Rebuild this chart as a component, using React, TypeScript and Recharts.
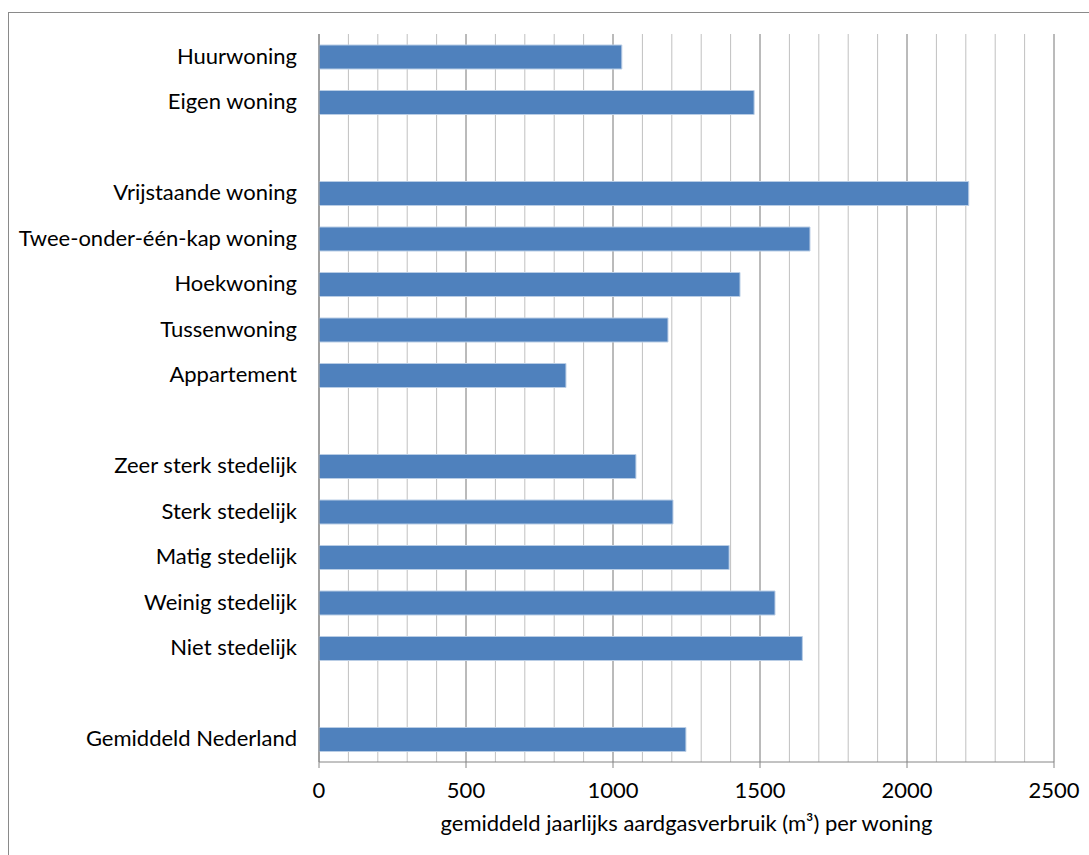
import React from 'react';
import { BarChart, Bar, XAxis, YAxis, CartesianGrid } from 'recharts';

const categories = [
  'Huurwoning',
  'Eigen woning',
  ' ',
  'Vrijstaande woning',
  'Twee-onder-één-kap woning',
  'Hoekwoning',
  'Tussenwoning',
  'Appartement',
  '  ',
  'Zeer sterk stedelijk',
  'Sterk stedelijk',
  'Matig stedelijk',
  'Weinig stedelijk',
  'Niet stedelijk',
  '   ',
  'Gemiddeld Nederland',
];
const gasUse = [1030, 1480, null, 2210, 1670, 1432, 1187, 840, null, 1078, 1204, 1395, 1551, 1644, null, 1248];
const minorTicks = [0, 100, 200, 300, 400, 500, 600, 700, 800, 900, 1000, 1100, 1200, 1300, 1400, 1500, 1600, 1700, 1800, 1900, 2000, 2100, 2200, 2300, 2400, 2500];
const majorTicks = [0, 500, 1000, 1500, 2000, 2500];
const axisTitle = 'gemiddeld jaarlijks aardgasverbruik (m³) per woning';

const data = categories.map((name, i) => ({ name, value: gasUse[i] }));

const FONT = 'Lato, "Open Sans", sans-serif';
const FS = 22;

const XTick = (props: any) => {
  const { x, y, payload } = props;
  if (!majorTicks.includes(payload.value)) return <g />;
  return (
    <g>
      <line x1={x} x2={x} y1={y} y2={y + 6} stroke="#868686" strokeWidth={1} />
      <text x={x} y={y + 36} textAnchor="middle" fill="#000" fontSize={FS} fontFamily={FONT}>
        {payload.value}
      </text>
    </g>
  );
};

const YTick = (props: any) => {
  const { x, y, payload } = props;
  return (
    <text x={x - 22} y={y + 7} textAnchor="end" fill="#000" fontSize={FS} fontFamily={FONT}>
      {String(payload.value).trim()}
    </text>
  );
};

const AxisTitle = (props: any) => {
  const { viewBox } = props;
  const cx = viewBox.x + viewBox.width / 2;
  return (
    <text x={cx} y={818} textAnchor="middle" fill="#000" fontSize={FS} fontFamily={FONT}>
      {axisTitle}
    </text>
  );
};

export default function App() {
  return (
    <div
      style={{
        position: 'absolute',
        left: 8,
        top: 12,
        width: 1100,
        height: 900,
        border: '1px solid #8a8a8a',
        background: '#fff',
      }}
    >
      <BarChart
        width={1090}
        height={850}
        data={data}
        layout="vertical"
        margin={{ top: 21, right: 45, bottom: 0, left: 0 }}
        barCategoryGap={0}
        style={{ fontFamily: FONT }}
      >
        <CartesianGrid horizontal={false} verticalValues={minorTicks} stroke="#C0C0C0" strokeWidth={1} />
        <CartesianGrid horizontal={false} verticalValues={majorTicks} stroke="#969696" strokeWidth={1} />
        <XAxis
          type="number"
          domain={[0, 2500]}
          ticks={minorTicks}
          interval={0}
          height={101}
          tickSize={0}
          tickMargin={0}
          tickLine={false}
          axisLine={{ stroke: '#868686', strokeWidth: 1 }}
          tick={<XTick />}
          label={<AxisTitle />}
        />
        <YAxis
          type="category"
          dataKey="name"
          width={310}
          interval={0}
          tickSize={0}
          tickMargin={0}
          tickLine={false}
          axisLine={{ stroke: '#868686', strokeWidth: 1 }}
          tick={<YTick />}
        />
        <Bar
          dataKey="value"
          fill="#4F81BD"
          stroke="#B9CDE5"
          strokeWidth={1}
          barSize={24}
          isAnimationActive={false}
        />
      </BarChart>
    </div>
  );
}
